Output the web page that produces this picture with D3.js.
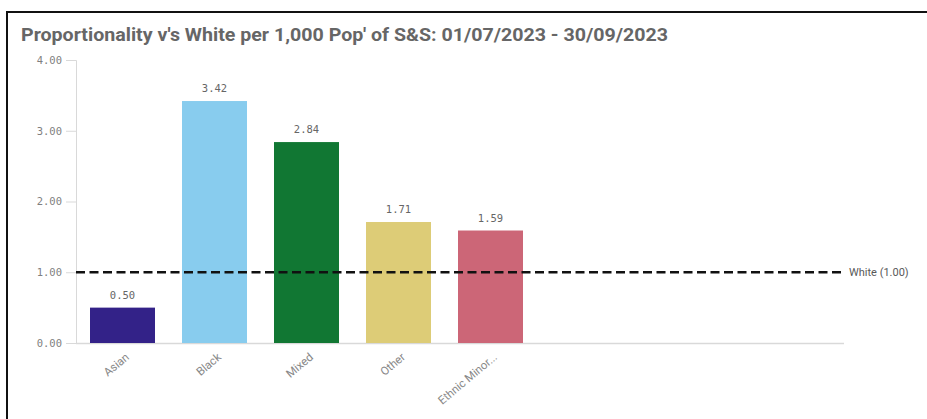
<!DOCTYPE html>
<html>
<head>
<meta charset="utf-8">
<script src="https://cdn.jsdelivr.net/npm/d3@7"></script>
<style>
  body { margin: 0; background: #fff; }
  svg { display: block; }
</style>
</head>
<body>
<div id="chart"></div>
<script>
'use strict';

// values
const categories = ['Asian', 'Black', 'Mixed', 'Other', 'Ethnic Minor...'];
const values = [0.50, 3.42, 2.84, 1.71, 1.59];
const barColors = ['#332288', '#88ccee', '#117733', '#ddcc77', '#cc6677'];
const yTicks = [0, 1, 2, 3, 4];
const reference = { label: 'White', value: 1.00 };
const title = "Proportionality v's White per 1,000 Pop' of S&S: 01/07/2023 - 30/09/2023";

(function () {
    const width = 927;
    const height = 419;

    const plotLeft = 76;
    const plotRight = 844;
    const plotTop = 60;
    const plotBottom = 343;
    const step = 92;

    const svg = d3.select('#chart').append('svg')
        .attr('width', width)
        .attr('height', height);

    // frame round the object
    svg.append('path')
        .attr('d', 'M7,419 L7,12 L927,12')
        .attr('fill', 'none')
        .attr('stroke', '#111')
        .attr('stroke-width', 2);

    svg.append('text')
        .attr('x', 21)
        .attr('y', 41)
        .attr('font-family', 'Roboto, sans-serif')
        .attr('font-weight', 'bold')
        .attr('font-size', 18)
        .attr('textLength', 647)
        .attr('lengthAdjust', 'spacingAndGlyphs')
        .attr('fill', '#666')
        .text(title);

    const y = d3.scaleLinear().domain([0, 4]).range([plotBottom, plotTop]);

    // band scale with a fixed step, bars do not fill the whole width
    const pInner = 27 / step;
    const pOuter = 14 / step;
    const x = d3.scaleBand()
        .domain(categories)
        .range([plotLeft, plotLeft + step * (categories.length - pInner + 2 * pOuter)])
        .paddingInner(pInner)
        .paddingOuter(pOuter);

    // y axis
    const yAxis = d3.axisLeft(y)
        .tickValues(yTicks)
        .tickFormat(d3.format('.2f'))
        .tickSize(10)
        .tickPadding(4);
    const gy = svg.append('g')
        .attr('transform', 'translate(' + plotLeft + ',0)')
        .call(yAxis);
    gy.select('.domain').attr('stroke', '#d9d9d9');
    gy.selectAll('.tick line').attr('stroke', '#d9d9d9');
    gy.selectAll('.tick text')
        .attr('fill', '#7f7f7f')
        .attr('font-family', 'DejaVu Sans Mono, monospace')
        .attr('font-size', 10.5);

    // x axis line
    svg.append('line')
        .attr('x1', plotLeft).attr('x2', plotRight)
        .attr('y1', plotBottom + 0.5).attr('y2', plotBottom + 0.5)
        .attr('stroke', '#d9d9d9')
        .attr('stroke-width', 1.5);

    // bars
    svg.append('g').selectAll('rect')
        .data(values)
        .enter().append('rect')
        .attr('x', function (d, i) { return x(categories[i]); })
        .attr('width', x.bandwidth())
        .attr('y', function (d) { return y(d); })
        .attr('height', function (d) { return plotBottom - y(d); })
        .attr('fill', function (d, i) { return barColors[i]; });

    // value labels
    svg.append('g').selectAll('text')
        .data(values)
        .enter().append('text')
        .attr('x', function (d, i) { return x(categories[i]) + x.bandwidth() / 2; })
        .attr('y', function (d) { return y(d) - 9; })
        .attr('text-anchor', 'middle')
        .attr('font-family', 'DejaVu Sans Mono, monospace')
        .attr('font-size', 10.5)
        .attr('fill', '#666')
        .text(function (d) { return d3.format('.2f')(d); });

    // category labels, rotated
    svg.append('g').selectAll('text')
        .data(categories)
        .enter().append('text')
        .attr('transform', function (d) {
            const cx = x(d) + x.bandwidth() / 2 + 3;
            return 'translate(' + cx + ',' + (plotBottom + 10) + ') rotate(-40)';
        })
        .attr('text-anchor', 'end')
        .attr('dy', '0.6em')
        .attr('font-family', 'Roboto, sans-serif')
        .attr('font-size', 11.5)
        .attr('fill', '#888')
        .text(function (d) { return d; });

    // reference line
    const ry = y(reference.value);
    svg.append('line')
        .attr('x1', plotLeft).attr('x2', plotRight)
        .attr('y1', ry).attr('y2', ry)
        .attr('stroke', '#111')
        .attr('stroke-width', 2.5)
        .attr('stroke-dasharray', '9,4.5');

    svg.append('text')
        .attr('x', plotRight + 5)
        .attr('y', ry)
        .attr('dy', '0.35em')
        .attr('font-family', 'Roboto, sans-serif')
        .attr('font-size', 11)
        .attr('fill', '#595959')
        .text(reference.label + ' (' + d3.format('.2f')(reference.value) + ')');
})();
</script>
</body>
</html>
